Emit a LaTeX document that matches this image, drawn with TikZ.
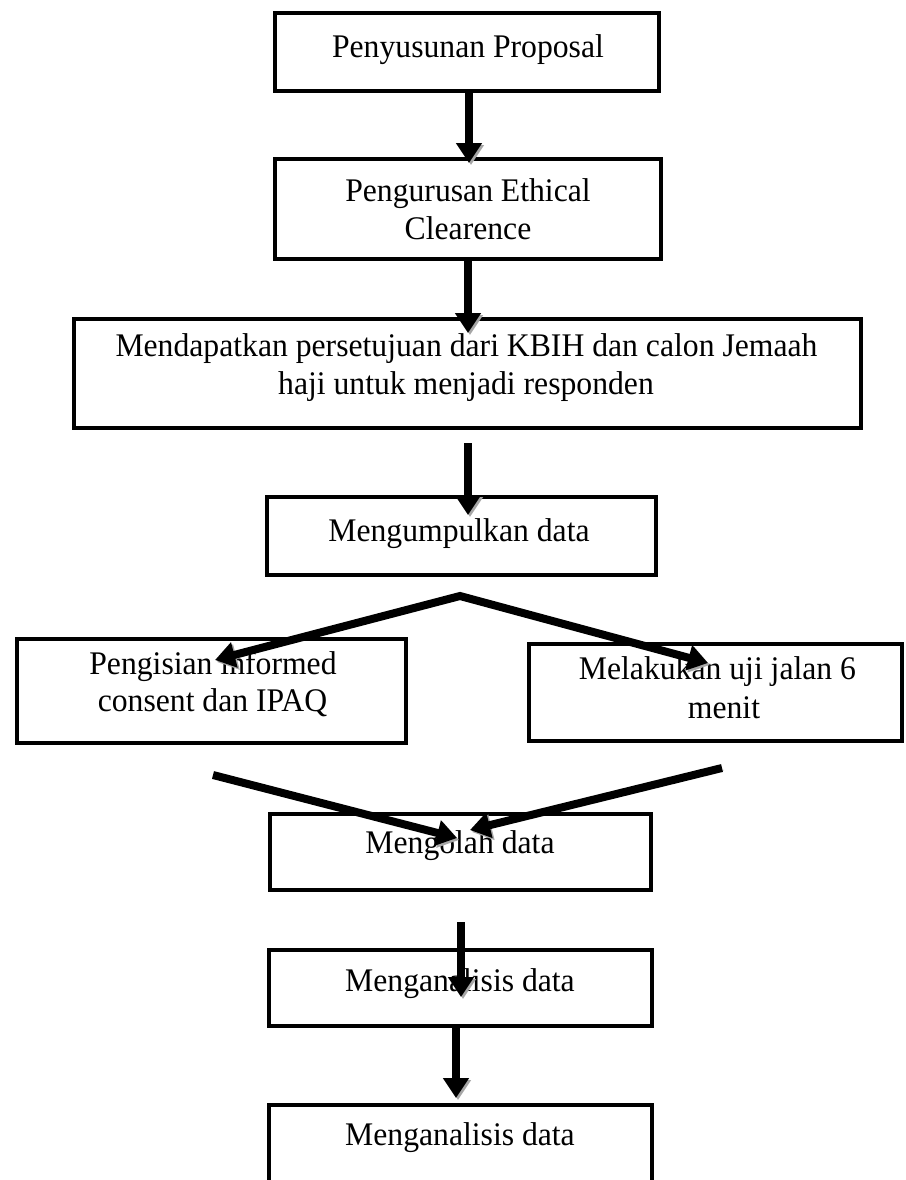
\documentclass[tikz,border=0pt]{standalone}
\usepackage{fontspec}
\setmainfont{Liberation Serif}
\newfontfamily\boxfont[FakeStretch=0.96]{Liberation Serif}
\usetikzlibrary{arrows.meta}

\begin{document}
\begin{tikzpicture}[x=1pt,y=-1pt,
  box/.style={draw=black, line width=4.5pt, inner sep=0pt, outer sep=0pt},
  txt/.style={font=\boxfont\fontsize{33}{38}\selectfont, inner sep=0pt, anchor=base},
  flow/.style={line width=8pt, -{Triangle[width=25pt,length=20pt]},
    preaction={draw=black!35, transform canvas={shift={(2pt,-2pt)}}}},
  vflow/.style={line width=8pt, {Triangle[width=25pt,length=20pt]}-{Triangle[width=25pt,length=20pt]},
    preaction={draw=black!35, transform canvas={shift={(2pt,-2pt)}}}},
]
\useasboundingbox (0,0) rectangle (905,1180);
\clip (0,0) rectangle (905,1180);
\fill[white] (0,0) rectangle (905,1180);

% boxes
\node[box, minimum width=384pt, minimum height=78pt]  (b1) at (467,52) {};
\node[box, minimum width=386pt, minimum height=100pt] (b2) at (468,209) {};
\node[box, minimum width=787pt, minimum height=109pt] (b3) at (467.5,373.5) {};
\node[box, minimum width=389pt, minimum height=78pt]  (bm) at (461.5,536) {};
\node[box, minimum width=389pt, minimum height=104pt] (b4) at (211.5,691) {};
\node[box, minimum width=373pt, minimum height=97pt]  (b5) at (715.5,692.5) {};
\node[box, minimum width=381pt, minimum height=76pt]  (b6) at (460.5,852) {};
\node[box, minimum width=383pt, minimum height=76pt]  (b7) at (460.5,988) {};
\node[box, minimum width=383pt, minimum height=95pt]  (b8) at (460.5,1152.5) {};

% texts
\node[txt] (t1)  at (468,58)    {Penyusunan Proposal};
\node[txt] (t2a) at (468,201)   {Pengurusan Ethical};
\node[txt] (t2b) at (468,239)   {Clearence};
\node[txt] (t3a) at (466.5,356) {Mendapatkan persetujuan dari KBIH dan calon Jemaah};
\node[txt] (t3b) at (466,394)   {haji untuk menjadi responden};
\node[txt] (tm)  at (459,541)   {Mengumpulkan data};
\node[txt] (t4a) at (213,674)   {Pengisian informed};
\node[txt] (t4b) at (212.5,711) {consent dan IPAQ};
\node[txt] (t5a) at (717.5,679) {Melakukan uji jalan 6};
\node[txt] (t5b) at (724,718)   {menit};
\node[txt] (t6)  at (460,853)   {Mengolah data};
\node[txt] (t7)  at (460,991)   {Menganalisis data};
\node[txt] (t8)  at (460,1145)  {Menganalisis data};

% arrow end points
\coordinate (a1s) at (469,92);   \coordinate (a1e) at (469,163);
\coordinate (a2s) at (468,261);  \coordinate (a2e) at (468,333);
\coordinate (a3s) at (468,443);  \coordinate (a3e) at (468,515);
\coordinate (apex) at (460,596);
\coordinate (a4e) at (215,660);  \coordinate (a5e) at (708,663);
\coordinate (a6s) at (213,775);  \coordinate (a6e) at (457,838);
\coordinate (a7s) at (722,768);  \coordinate (a7e) at (470,830);
\coordinate (a8s) at (461,922);  \coordinate (a8e) at (461,997);
\coordinate (a9s) at (456,1025); \coordinate (a9e) at (456,1098);

% arrows
\draw[flow] (a1s) -- (a1e);
\draw[flow] (a2s) -- (a2e);
\draw[flow] (a3s) -- (a3e);
\draw[vflow] (a4e) -- (apex) -- (a5e);
\draw[flow] (a6s) -- (a6e);
\draw[flow] (a7s) -- (a7e);
\draw[flow] (a8s) -- (a8e);
\draw[flow] (a9s) -- (a9e);
\end{tikzpicture}
\end{document}
